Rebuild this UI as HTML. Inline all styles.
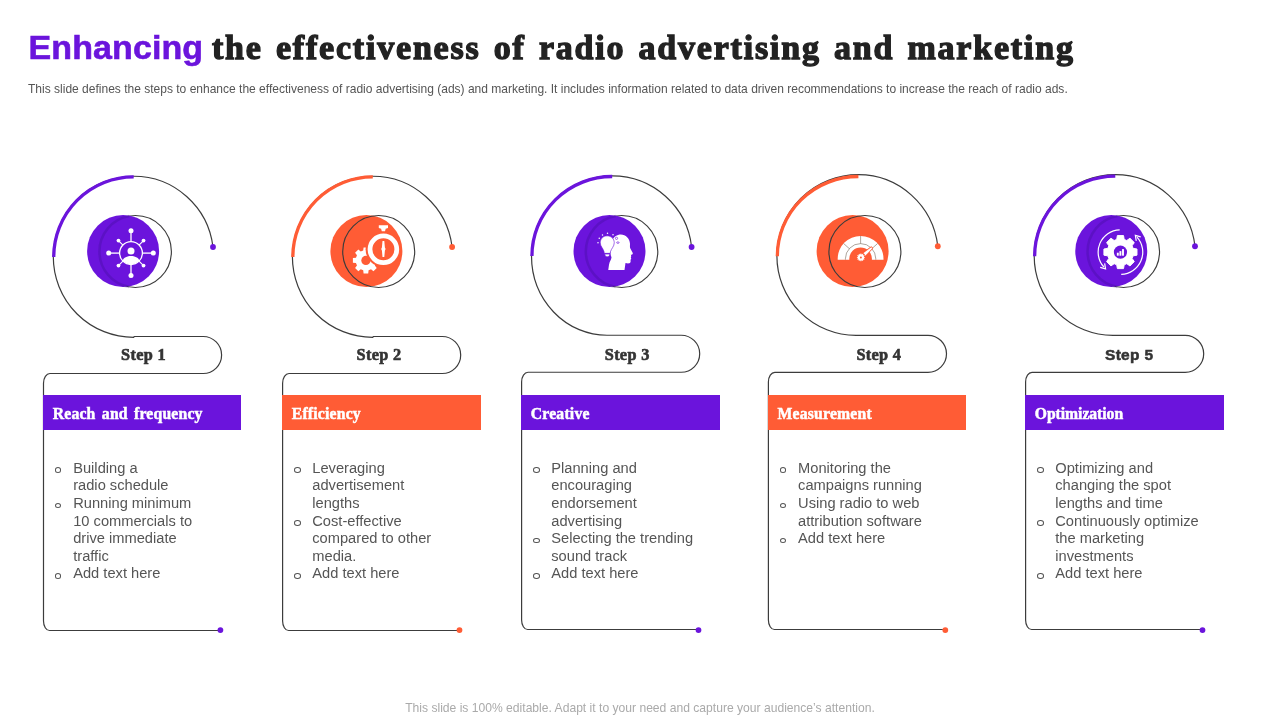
<!DOCTYPE html>
<html lang="en"><head><meta charset="utf-8"><title>Enhancing the effectiveness of radio advertising and marketing</title>
<style>
html,body{margin:0;padding:0}
body{width:1280px;height:720px;background:#fff;position:relative;overflow:hidden;font-family:"Liberation Sans",sans-serif}
.title{position:absolute;left:0;top:0;margin:0;font-weight:bold;font-size:34px}
.title span{position:absolute;white-space:nowrap;line-height:40px;height:40px;top:27px}
.title .a{left:28.5px;font-family:"Liberation Sans",sans-serif;font-size:34px;color:#6b14dc;letter-spacing:0.1px;-webkit-text-stroke:0.6px #6b14dc}
.title .b{left:212px;top:28px;font-family:"Liberation Serif",serif;font-size:34px;color:#222;letter-spacing:1.8px;word-spacing:2.9px;-webkit-text-stroke:1.3px #222}
.sub{position:absolute;left:28px;top:82px;margin:0;font-size:12.03px;line-height:14px;color:#555;white-space:nowrap}
svg.g{position:absolute;left:0;top:0}
.bar{position:absolute;top:395px;width:197.8px;height:34.7px;color:#fff;font-family:"Liberation Serif",serif;font-weight:bold;font-size:15.7px;letter-spacing:0.2px;-webkit-text-stroke:0.5px #fff;line-height:35px;white-space:nowrap}
.bar span{position:absolute;left:9.7px;top:0.9px}
.step{position:absolute;width:120px;height:24px;line-height:24px;text-align:center;font-weight:bold;font-size:15.5px;letter-spacing:-0.3px;color:#333;white-space:nowrap}
.list{position:absolute;top:459.9px;margin:0;padding:0 0 0 29.7px;list-style:none;font-size:14.67px;line-height:17.6px;color:#555;white-space:nowrap}
.list li{position:relative;margin:0;padding:0}
.list li:before{content:"";position:absolute;left:-18.3px;top:7.6px;width:4.6px;height:3.5px;border:1.15px solid #555;border-radius:50%}
.foot{position:absolute;left:0;width:1280px;top:700px;text-align:center;font-size:12.12px;line-height:16px;color:#aaa;white-space:nowrap}
</style></head>
<body>
<h1 class="title"><span class="a">Enhancing</span><span class="b">the effectiveness of radio advertising and marketing</span></h1>
<p class="sub">This slide defines the steps to enhance the effectiveness of radio advertising (ads) and marketing. It includes information related to data driven recommendations to increase the reach of radio ads.</p>
<svg class="g" width="1280" height="720" viewBox="0 0 1280 720">
<path d="M213 247 A79.89 80.55 0 0 0 133.7 176.25 A80.4 80.55 0 0 0 53.3 256.8 A80.4 80.5 0 0 0 133.7 337.3 L134.2 336.5 L203.1 336.5 A18.5 18.5 0 0 1 203.1 373.5 L49.9 373.5 A6.4 9.8 0 0 0 43.5 383.3 L43.5 621 A6 9.5 0 0 0 49.5 630.5 L218 630.5" fill="none" stroke="#3c3c3c" stroke-width="1.2"/>
<path d="M53.75 257.1 A79.95 79.95 0 0 1 133.7 176.85" fill="none" stroke="#6b14dc" stroke-width="3.3"/>
<circle cx="213" cy="247" r="2.9" fill="#6b14dc"/>
<circle cx="220.4" cy="630.1" r="2.9" fill="#6b14dc"/>
<circle cx="135.4" cy="251.5" r="36" fill="none" stroke="#3c3c3c" stroke-width="1.15"/>
<circle cx="123.1" cy="251.1" r="36" fill="#6b14dc"/>
<path d="M129.25 216.03A36 36 0 0 0 129.25 286.97" fill="none" stroke="#2a0a78" stroke-width="2.5" opacity="0.22"/>
<g transform="translate(131 253.1)" fill="#fff" stroke="#fff" stroke-width="1.3"><circle r="11.4" fill="none"/><path d="M11.4 0L22.3 0" fill="none"/><circle cx="22.3" cy="0" r="2.5" stroke="none"/><path d="M0 11.4L0 22.3" fill="none"/><circle cx="0" cy="22.3" r="2.5" stroke="none"/><path d="M-11.4 0L-22.3 0" fill="none"/><circle cx="-22.3" cy="0" r="2.5" stroke="none"/><path d="M-0 -11.4L-0 -22.3" fill="none"/><circle cx="-0" cy="-22.3" r="2.5" stroke="none"/><path d="M8.06 8.06L12.52 12.52" fill="none" stroke-width="1.1"/><circle cx="12.52" cy="12.52" r="1.9" stroke="none"/><path d="M-8.06 8.06L-12.52 12.52" fill="none" stroke-width="1.1"/><circle cx="-12.52" cy="12.52" r="1.9" stroke="none"/><path d="M-8.06 -8.06L-12.52 -12.52" fill="none" stroke-width="1.1"/><circle cx="-12.52" cy="-12.52" r="1.9" stroke="none"/><path d="M8.06 -8.06L12.52 -12.52" fill="none" stroke-width="1.1"/><circle cx="12.52" cy="-12.52" r="1.9" stroke="none"/><circle cx="0" cy="-2.1" r="3.5" stroke="none"/><path d="M-8.3 7.6C-7.6 4.6 -3.6 3 0 3C3.6 3 7.6 4.6 8.3 7.6A11.4 11.4 0 0 1 -8.3 7.6Z" stroke="none"/></g>
<path d="M452.1 247 A79.89 80.55 0 0 0 372.8 176.25 A80.4 80.55 0 0 0 292.4 256.8 A80.4 80.5 0 0 0 372.8 337.3 L373.3 336.5 L442.2 336.5 A18.5 18.5 0 0 1 442.2 373.5 L289 373.5 A6.4 9.8 0 0 0 282.6 383.3 L282.6 621 A6 9.5 0 0 0 288.6 630.5 L457.1 630.5" fill="none" stroke="#3c3c3c" stroke-width="1.2"/>
<path d="M292.85 257.1 A79.95 79.95 0 0 1 372.8 176.85" fill="none" stroke="#ff5c35" stroke-width="3.3"/>
<circle cx="452.1" cy="247" r="2.9" fill="#ff5c35"/>
<circle cx="459.5" cy="630.1" r="2.9" fill="#ff5c35"/>
<circle cx="366.4" cy="251.1" r="36" fill="#ff5c35"/>
<g transform="translate(366.4 251.1)"><path d="M9.44 6.61 L12.5 6.99 L12.5 11.61 L9.44 11.99 L8.43 14.43 L10.32 16.86 L7.06 20.12 L4.63 18.23 L2.19 19.24 L1.81 22.3 L-2.81 22.3 L-3.19 19.24 L-5.63 18.23 L-8.06 20.12 L-11.32 16.86 L-9.43 14.43 L-10.44 11.99 L-13.5 11.61 L-13.5 6.99 L-10.44 6.61 L-9.43 4.17 L-11.32 1.74 L-8.06 -1.52 L-5.63 0.37 L-3.19 -0.64 L-2.81 -3.7 L1.81 -3.7 L2.19 -0.64 L4.63 0.37 L7.06 -1.52 L10.32 1.74 L8.43 4.17Z" fill="#fff"/><circle cx="-0.5" cy="9.3" r="4.6" fill="#ff5c35"/><circle cx="17" cy="-1.8" r="17.8" fill="#ff5c35"/><circle cx="17" cy="-1.8" r="13.4" fill="none" stroke="#fff" stroke-width="4.75"/><path d="M12.4 -25.8L21.6 -25.8L21.6 -23L19.3 -22.4L18.6 -19.8L15.4 -19.8L14.7 -22.4L12.4 -23Z" fill="#fff"/><path d="M16.1 -10.1L17.9 -10.1L18.5 -3.6L19.2 -2.2L18.5 -0.6L17.9 5.9L16.1 5.9L15.5 -0.6L14.8 -2.2L15.5 -3.6Z" fill="#fff"/></g>
<circle cx="378.7" cy="251.5" r="36" fill="none" stroke="#3c3c3c" stroke-width="1.15"/>
<path d="M691.6 247 A79.89 79.9 0 0 0 612.2 175.9 A80.7 79.9 0 0 0 531.5 255.8 A75.5 79.45 0 0 0 607 335.25 L607.5 335.25 L681.2 335.25 A18.5 18.5 0 0 1 681.2 372.25 L528 372.25 A6.4 9.8 0 0 0 521.6 382.05 L521.6 620 A6 9.5 0 0 0 527.6 629.5 L696.1 629.5" fill="none" stroke="#3c3c3c" stroke-width="1.2"/>
<path d="M531.95 256.1 A80.25 79.3 0 0 1 612.2 176.5" fill="none" stroke="#6b14dc" stroke-width="3.3"/>
<circle cx="691.6" cy="247" r="2.9" fill="#6b14dc"/>
<circle cx="698.5" cy="630.1" r="2.9" fill="#6b14dc"/>
<circle cx="621.8" cy="251.5" r="36" fill="none" stroke="#3c3c3c" stroke-width="1.15"/>
<circle cx="609.5" cy="251.1" r="36" fill="#6b14dc"/>
<path d="M615.65 216.03A36 36 0 0 0 615.65 286.97" fill="none" stroke="#2a0a78" stroke-width="2.5" opacity="0.22"/>
<g transform="translate(609.5 251.1) scale(0.125) translate(-396 -368)"><path d="M386 520 L392 478 C396 452 410 440 412 418 C404 400 400 380 404 350 C400 300 420 250 470 237 C520 228 556 262 560 310 C560 326 558 336 562 346 L582 384 C584 392 576 396 566 398 C570 406 572 412 566 418 C572 426 570 432 564 438 C566 452 566 462 554 466 C544 468 534 466 524 464 L516 520 Z" fill="#fff"/><path d="M377 246 C412 246 434 272 434 301 C434 330 412 346 404 372 L402 386 L354 386 L352 372 C346 346 322 330 322 301 C322 272 344 246 377 246 Z" fill="#fff" stroke="#6b14dc" stroke-width="5"/><path d="M358 392 L398 392 L394 408 C386 416 370 416 362 408 Z" fill="#fff" stroke="#6b14dc" stroke-width="5"/><circle cx="304" cy="302" r="6" fill="#fff"/><circle cx="314" cy="266" r="6" fill="#fff"/><circle cx="340" cy="240" r="6" fill="#fff"/><circle cx="380" cy="226" r="6" fill="#fff"/><circle cx="424" cy="238" r="6" fill="#fff"/><circle cx="452" cy="266" r="9" fill="none" stroke="#6b14dc" stroke-width="5"/><ellipse cx="463" cy="300" rx="10" ry="6" fill="none" stroke="#6b14dc" stroke-width="5"/></g>
<path d="M937.8 246.25 A79.98 81.3 0 0 0 858.4 174.7 A81.5 81.3 0 0 0 776.9 256 A79.1 79.3 0 0 0 856 335.3 L856.5 335.3 L928 335.3 A18.5 18.5 0 0 1 928 372.3 L774.8 372.3 A6.4 9.8 0 0 0 768.4 382.1 L768.4 620 A6 9.5 0 0 0 774.4 629.5 L942.9 629.5" fill="none" stroke="#3c3c3c" stroke-width="1.2"/>
<path d="M777.35 256.3 A81.05 79.5 0 0 1 858.4 176.5" fill="none" stroke="#ff5c35" stroke-width="3.3"/>
<circle cx="937.8" cy="246.25" r="2.9" fill="#ff5c35"/>
<circle cx="945.3" cy="630.1" r="2.9" fill="#ff5c35"/>
<circle cx="852.6" cy="251.1" r="36" fill="#ff5c35"/>
<g transform="translate(852.6 251.1)"><path d="M-14.9 8.6L-14.9 7.7A22.9 22.9 0 0 1 30.9 7.7L30.9 8.6L19.3 8.6L19.3 7.7A11.3 11.3 0 0 0 -3.3 7.7L-3.3 8.6Z" fill="#fff"/><path d="M-7.2 8.6L-7.2 7.7A15.2 15.2 0 0 1 23.2 7.7L23.2 8.6" fill="none" stroke="#6a5a4a" stroke-width="0.55"/><path d="M8 -7.5L8 -15.2" stroke="#6a5a4a" stroke-width="0.55" fill="none"/><path d="M-3.3 -2.47L-9.02 -7.62" stroke="#6a5a4a" stroke-width="0.55" fill="none"/><path d="M19.3 -2.47L25.02 -7.62" stroke="#6a5a4a" stroke-width="0.55" fill="none"/><path d="M9.63 7.8L19.76 -2.78L18.7 -3.97L6.97 4.8Z" fill="#fff" stroke="#ff5c35" stroke-width="1.5" stroke-linejoin="round" paint-order="stroke"/><circle cx="8.3" cy="6.3" r="4.9" fill="#ff5c35"/><path d="M11.47 5.84 L12.27 5.83 L12.27 6.77 L11.47 6.76 L11.27 7.49 L11.98 7.88 L11.51 8.69 L10.81 8.28 L10.28 8.81 L10.69 9.51 L9.88 9.98 L9.49 9.27 L8.76 9.47 L8.77 10.27 L7.83 10.27 L7.84 9.47 L7.11 9.27 L6.72 9.98 L5.91 9.51 L6.32 8.81 L5.79 8.28 L5.09 8.69 L4.62 7.88 L5.33 7.49 L5.13 6.76 L4.33 6.77 L4.33 5.83 L5.13 5.84 L5.33 5.11 L4.62 4.72 L5.09 3.91 L5.79 4.32 L6.32 3.79 L5.91 3.09 L6.72 2.62 L7.11 3.33 L7.84 3.13 L7.83 2.33 L8.77 2.33 L8.76 3.13 L9.49 3.33 L9.88 2.62 L10.69 3.09 L10.28 3.79 L10.81 4.32 L11.51 3.91 L11.98 4.72 L11.27 5.11Z" fill="#fff"/><circle cx="8.3" cy="6.3" r="1.0" fill="#ff5c35"/></g>
<circle cx="864.9" cy="251.5" r="36" fill="none" stroke="#3c3c3c" stroke-width="1.15"/>
<path d="M1195 246.25 A80.28 81.3 0 0 0 1115.3 174.7 A81.1 81.3 0 0 0 1034.2 256 A78.8 79.3 0 0 0 1113 335.3 L1113.5 335.3 L1185.2 335.3 A18.5 18.5 0 0 1 1185.2 372.3 L1032 372.3 A6.4 9.8 0 0 0 1025.6 382.1 L1025.6 620 A6 9.5 0 0 0 1031.6 629.5 L1200.1 629.5" fill="none" stroke="#3c3c3c" stroke-width="1.2"/>
<path d="M1034.65 256.3 A80.65 79.8 0 0 1 1115.3 176.2" fill="none" stroke="#6b14dc" stroke-width="3.3"/>
<circle cx="1195" cy="246.25" r="2.9" fill="#6b14dc"/>
<circle cx="1202.5" cy="630.1" r="2.9" fill="#6b14dc"/>
<circle cx="1123.55" cy="251.5" r="36" fill="none" stroke="#3c3c3c" stroke-width="1.15"/>
<circle cx="1111.25" cy="251.1" r="36" fill="#6b14dc"/>
<path d="M1117.4 216.03A36 36 0 0 0 1117.4 286.97" fill="none" stroke="#2a0a78" stroke-width="2.5" opacity="0.22"/>
<g transform="translate(1111.25 251.1)"><path d="M21.86 -2.74 L25.72 -2.07 L25.72 4.07 L21.86 4.74 L20.8 7.3 L23.05 10.51 L18.71 14.85 L15.5 12.6 L12.94 13.66 L12.27 17.52 L6.13 17.52 L5.46 13.66 L2.9 12.6 L-0.31 14.85 L-4.65 10.51 L-2.4 7.3 L-3.46 4.74 L-7.32 4.07 L-7.32 -2.07 L-3.46 -2.74 L-2.4 -5.3 L-4.65 -8.51 L-0.31 -12.85 L2.9 -10.6 L5.46 -11.66 L6.13 -15.52 L12.27 -15.52 L12.94 -11.66 L15.5 -10.6 L18.71 -12.85 L23.05 -8.51 L20.8 -5.3Z" fill="#fff" stroke="#fff" stroke-width="1" stroke-linejoin="round"/><circle cx="9.2" cy="1" r="6.6" fill="#6b14dc"/><rect x="5.6" y="1.6" width="1.9" height="3" fill="#fff"/><rect x="8.2" y="0" width="1.9" height="4.6" fill="#fff"/><rect x="10.8" y="-2" width="1.9" height="6.6" fill="#fff"/><path d="M8.42 -21.29A22.3 22.3 0 0 0 -7.37 15.92" fill="none" stroke="#fff" stroke-width="1.2"/><path d="M-11.07 16.29L-5.7 17.78L-6.61 12.28" fill="none" stroke="#fff" stroke-width="1.2" stroke-linejoin="miter"/><path d="M9.98 23.29A22.3 22.3 0 0 0 25.77 -13.92" fill="none" stroke="#fff" stroke-width="1.2"/><path d="M29.47 -14.29L24.1 -15.78L25.01 -10.28" fill="none" stroke="#fff" stroke-width="1.2" stroke-linejoin="miter"/></g>
</svg>
<div class="bar" style="left:43px;width:197.8px;background:#6b14dc"><span style="word-spacing:2.2px">Reach and frequency</span></div>
<div class="step" style="left:83.5px;top:343.2px;font-family:'Liberation Serif',serif;font-size:16.3px;letter-spacing:0.3px;-webkit-text-stroke:0.6px #333">Step 1</div>
<ul class="list" style="left:43.5px"><li>Building a<br>radio schedule</li><li>Running minimum<br>10 commercials to<br>drive immediate<br>traffic</li><li>Add text here</li></ul>
<div class="bar" style="left:282.1px;width:198.7px;background:#ff5c35"><span>Efficiency</span></div>
<div class="step" style="left:319px;top:343.2px;font-family:'Liberation Serif',serif;font-size:16.3px;letter-spacing:0.3px;-webkit-text-stroke:0.6px #333">Step 2</div>
<ul class="list" style="left:282.6px"><li>Leveraging<br>advertisement<br>lengths</li><li>Cost-effective<br>compared to other<br>media.</li><li>Add text here</li></ul>
<div class="bar" style="left:521.1px;width:198.8px;background:#6b14dc"><span>Creative</span></div>
<div class="step" style="left:567.2px;top:343.2px;font-family:'Liberation Serif',serif;font-size:16.3px;letter-spacing:0.3px;-webkit-text-stroke:0.6px #333">Step 3</div>
<ul class="list" style="left:521.6px"><li>Planning and<br>encouraging<br>endorsement<br>advertising</li><li>Selecting the trending<br>sound track</li><li>Add text here</li></ul>
<div class="bar" style="left:767.9px;width:197.8px;background:#ff5c35"><span>Measurement</span></div>
<div class="step" style="left:818.9px;top:343.2px;font-family:'Liberation Serif',serif;font-size:16.3px;letter-spacing:0.3px;-webkit-text-stroke:0.6px #333">Step 4</div>
<ul class="list" style="left:768.4px"><li>Monitoring the<br>campaigns running</li><li>Using radio to web<br>attribution software</li><li>Add text here</li></ul>
<div class="bar" style="left:1025.1px;width:198.7px;background:#6b14dc"><span style="letter-spacing:-0.05px">Optimization</span></div>
<div class="step" style="left:1069.2px;top:343.0px;letter-spacing:0.3px;-webkit-text-stroke:0.5px #333">Step 5</div>
<ul class="list" style="left:1025.6px"><li>Optimizing and<br>changing the spot<br>lengths and time</li><li>Continuously optimize<br>the marketing<br>investments</li><li>Add text here</li></ul>
<div class="foot">This slide is 100% editable. Adapt it to your need and capture your audience’s attention.</div>
</body></html>
